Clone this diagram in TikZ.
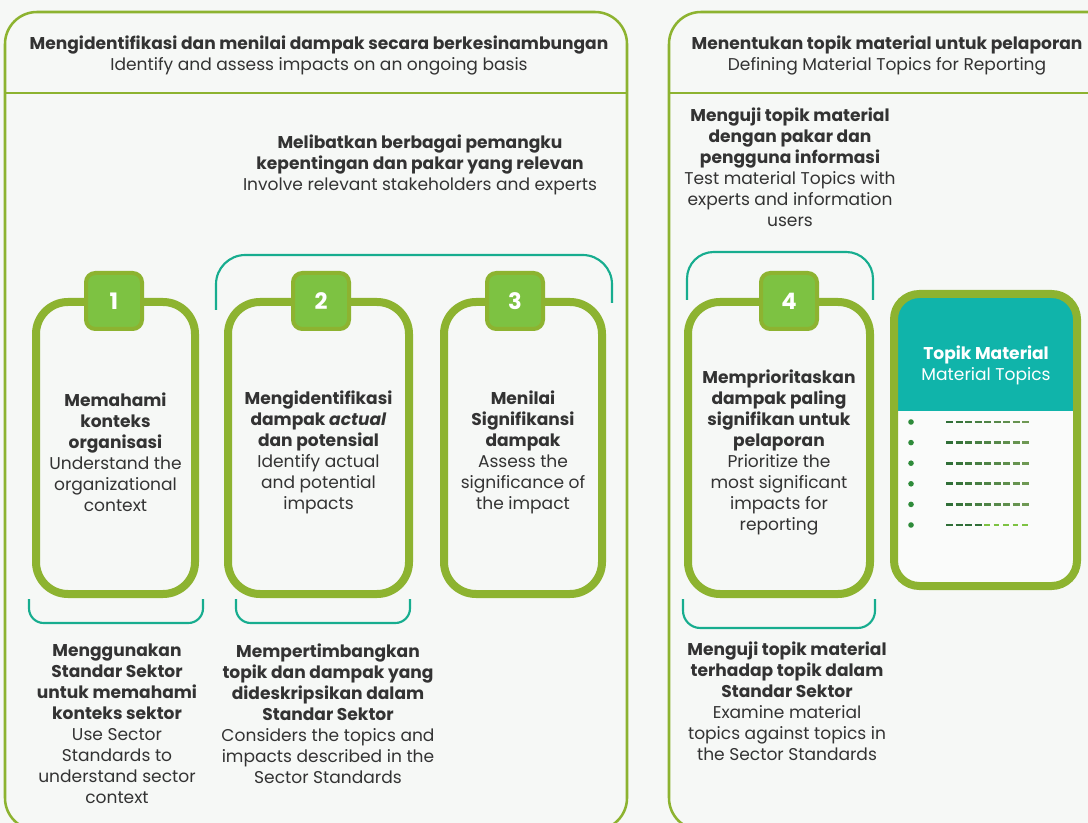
\documentclass[tikz,border=0pt]{standalone}
\usepackage{fontspec}
\setmainfont{Poppins}
\usetikzlibrary{positioning}

\definecolor{leaf}{HTML}{8DB330}
\definecolor{leaflight}{HTML}{7DC242}
\definecolor{brackteal}{HTML}{17AD8F}
\definecolor{cardteal}{HTML}{10B4AA}
\definecolor{ink}{HTML}{333333}
\definecolor{dashdark}{HTML}{2F6E37}
\definecolor{dashlight}{HTML}{86A95E}
\definecolor{dotgreen}{HTML}{2E8B3A}
\definecolor{bgpale}{HTML}{F6F8F6}

\begin{document}
\begin{tikzpicture}[x=0.75pt, y=-0.75pt,
	panel/.style={draw=leaf, line width=1.9pt, rounded corners=24pt},
	stepbox/.style={draw=leaf, line width=6pt, rounded corners=24pt, minimum width=#1, minimum height=219pt},
	numtab/.style={fill=leaflight, draw=leaf, line width=3pt, rounded corners=7pt, minimum size=42pt, text=white, font=\fontsize{17}{17}\selectfont\bfseries},
	bracket/.style={draw=brackteal, line width=1.6pt},
	txt/.style={text=ink, align=center, font=\fontsize{12.8}{15.75}\selectfont},
	dashline/.style={line width=2.2pt}]
	\fill[bgpale] (0,0) rectangle (1088,823); % Hintergrund
	\useasboundingbox (0,0) rectangle (1088,823);
	
	% Rahmen links und rechts
	\draw[panel] (5,12) rectangle (627,830);
	\draw[leaf, line width=1.9pt] (5,93) -- (627,93);
	\draw[panel] (669,12) rectangle (1130,830);
	\draw[leaf, line width=1.9pt] (669,93) -- (1130,93);
	
	\node[txt] (headL) at (319,55) {\textbf{Mengidentifikasi dan menilai dampak secara berkesinambungan}\\Identify and assess impacts on an ongoing basis};
	\node[txt] (headR) at (887,55) {\textbf{Menentukan topik material untuk pelaporan}\\Defining Material Topics for Reporting};
	
	\node[txt] (involve) at (420,165) {\textbf{Melibatkan berbagai pemangku}\\\textbf{kepentingan dan pakar yang relevan}\\Involve relevant stakeholders and experts};
	\node[txt] (test) at (790,167) {\textbf{Menguji topik material}\\\textbf{dengan pakar dan}\\\textbf{pengguna informasi}\\Test material Topics with\\experts and information\\users};
	
	% Klammern oben
	\draw[bracket, rounded corners=22pt] (216,310) |- (612,255) -- (612,303);
	\draw[bracket, rounded corners=20pt] (687,300) |- (873,252) -- (873,300);
	
	% Schritte
	\node[stepbox=119.25pt] (box1) at (115.5,448) {};
	\node[stepbox=135.75pt] (box2) at (318.5,448) {};
	\node[stepbox=118.5pt] (box3) at (523,448) {};
	\node[stepbox=136.5pt] (box4) at (779,448) {};
	
	\node[numtab] (tab1) at (114,301) {1};
	\node[numtab] (tab2) at (321,301) {2};
	\node[numtab] (tab3) at (515,301) {3};
	\node[numtab] (tab4) at (789,301) {4};
	
	\node[txt] (text1) at ([yshift=-3pt]box1.center) {\textbf{Memahami}\\\textbf{konteks}\\\textbf{organisasi}\\Understand the\\organizational\\context};
	\node[txt] (text2) at ([yshift=-3pt]box2.center) {\textbf{Mengidentifikasi}\\\textbf{dampak \textit{actual}}\\\textbf{dan potensial}\\Identify actual\\and potential\\impacts};
	\node[txt] (text3) at ([yshift=-3pt]box3.center) {\textbf{Menilai}\\\textbf{Signifikansi}\\\textbf{dampak}\\Assess the\\significance of\\the impact};
	\node[txt] (text4) at ([yshift=-3pt]box4.center) {\textbf{Memprioritaskan}\\\textbf{dampak paling}\\\textbf{signifikan untuk}\\\textbf{pelaporan}\\Prioritize the\\most significant\\impacts for\\reporting};
	
	% Klammern unten
	\draw[bracket, rounded corners=11pt] (29,599) |- (203,623) -- (203,599);
	\draw[bracket, rounded corners=11pt] (236,599) |- (410,623) -- (410,599);
	\draw[bracket, rounded corners=13pt] (683,599) |- (875,628) -- (875,599);
	
	\node[txt] (sector1) at (117,724) {\textbf{Menggunakan}\\\textbf{Standar Sektor}\\\textbf{untuk memahami}\\\textbf{konteks sektor}\\Use Sector\\Standards to\\understand sector\\context};
	\node[txt] (sector2) at (328,714) {\textbf{Mempertimbangkan}\\\textbf{topik dan dampak yang}\\\textbf{dideskripsikan dalam}\\\textbf{Standar Sektor}\\Considers the topics and\\impacts described in the\\Sector Standards};
	\node[txt] (sector3) at (787,701) {\textbf{Menguji topik material}\\\textbf{terhadap topik dalam}\\\textbf{Standar Sektor}\\Examine material\\topics against topics in\\the Sector Standards};
	
	% Karte Topik Material
	\node[minimum width=137.25pt, minimum height=219pt, outer sep=0pt] (card) at (985.5,440) {};
	\begin{scope}
		\clip[rounded corners=19pt] (card.north west) rectangle (card.south east);
		\fill[white, opacity=0.5] (card.north west) rectangle (card.south east);
		\fill[cardteal] (card.north west) rectangle (card.east |- 0,411);
	\end{scope}
	\draw[leaf, line width=6pt, rounded corners=19pt] (card.north west) rectangle (card.south east);
	\node[txt, text=white] (cardtitle) at (986,365) {\textbf{Topik Material}\\Material Topics};
	
	\foreach \r in {0,...,4}{
		\fill[dotgreen] (911,422+20.6*\r) circle (2.1pt);
		\foreach \k [evaluate=\k as \mix using 100-9*\k] in {0,...,8}
			\draw[dashline, dashdark!\mix!dashlight] (946+9.5*\k,422+20.6*\r) -- ++(7.3,0);
	}
	\fill[dotgreen] (911,525) circle (2.1pt);
	\foreach \k in {0,...,3}
		\draw[dashline, dashdark] (946+9.5*\k,525) -- ++(7.3,0);
	\foreach \k in {4,...,8}
		\draw[leaflight, line width=1.1pt] (946+9.5*\k,525) -- ++(5.5,0);
\end{tikzpicture}
\end{document}
